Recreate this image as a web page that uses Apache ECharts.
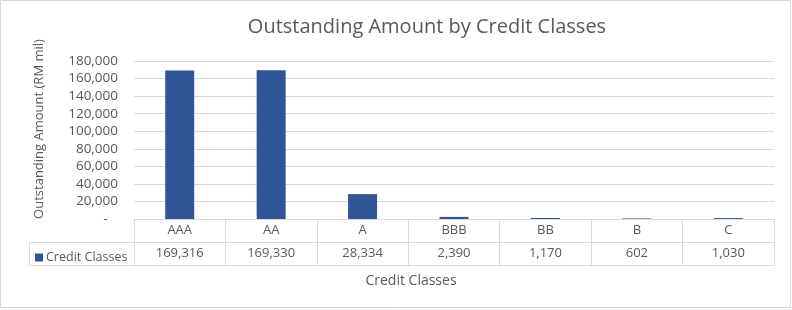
<!DOCTYPE html>
<html>
<head>
<meta charset="utf-8">
<script src="https://cdn.jsdelivr.net/npm/echarts@6/dist/echarts.min.js"></script>
<style>
html, body { margin: 0; padding: 0; background: #fff; }
#chart { width: 792px; height: 310px; }
</style>
</head>
<body>
<div id="chart"></div>
<script>
// data
const categories = ['AAA', 'AA', 'A', 'BBB', 'BB', 'B', 'C']
const values = [169316, 169330, 28334, 2390, 1170, 602, 1030]
const seriesName = 'Credit Classes'
const yMin = 0
const yMax = 180000
const yStep = 20000

const font = 'Open Sans'
const textColor = '#595959'
const lineColor = '#d9d9d9'
const fmt = (v) => Number(v).toLocaleString('en-US')

const chart = echarts.init(document.getElementById('chart'))
const option = {
  animation: false,
  textStyle: { fontFamily: font },
  title: [
    {
      text: 'Outstanding Amount by Credit Classes',
      left: 427,
      top: 17,
      padding: 0,
      textAlign: 'center',
      textStyle: { fontFamily: font, fontSize: 20, fontWeight: 'normal', color: textColor }
    },
    {
      text: 'Credit Classes',
      left: 411,
      top: 274,
      padding: 0,
      textAlign: 'center',
      textStyle: { fontFamily: font, fontSize: 14, fontWeight: 'normal', color: textColor }
    }
  ],
  // legend key sits in the data table's left cell
  legend: {
    data: [seriesName],
    left: 30,
    top: 246,
    icon: 'rect',
    itemWidth: 8,
    itemHeight: 8,
    itemGap: 0,
    selectedMode: false,
    textStyle: { fontFamily: font, fontSize: 12.5, color: textColor, padding: [0, 0, 0, -2] }
  },
  grid: {
    left: 134,
    right: 18,
    top: 61,
    bottom: 91,
    containLabel: false
  },
  xAxis: [
    // row 1: category names, ticks make the column dividers
    {
      type: 'category',
      data: categories,
      position: 'bottom',
      z: 3,
      axisLine: { lineStyle: { color: lineColor } },
      axisTick: { show: true, length: 46, interval: 0, lineStyle: { color: lineColor } },
      axisLabel: { color: textColor, fontSize: 13, margin: 5, interval: 0 },
      splitLine: { show: false }
    },
    // row 2: values
    {
      type: 'category',
      data: values.map(fmt),
      position: 'bottom',
      offset: 23,
      axisLine: { lineStyle: { color: lineColor } },
      axisTick: { show: false },
      axisLabel: { color: textColor, fontSize: 13, margin: 5, interval: 0 }
    },
    // bottom edge of the table
    {
      type: 'category',
      data: categories,
      position: 'bottom',
      offset: 46,
      axisLine: { lineStyle: { color: lineColor } },
      axisTick: { show: false },
      axisLabel: { show: false }
    }
  ],
  yAxis: {
    type: 'value',
    min: yMin,
    max: yMax,
    interval: yStep,
    name: 'Outstanding Amount (RM mil)',
    nameLocation: 'middle',
    nameRotate: 90,
    nameGap: 88,
    nameTextStyle: { fontFamily: font, fontSize: 13, color: textColor, padding: [0, 0, 0, 22] },
    axisLine: { show: false },
    axisTick: { show: false },
    axisLabel: {
      color: textColor,
      fontSize: 13.5,
      margin: 16,
      formatter: (v) => (v === 0 ? '-   ' : fmt(v))
    },
    splitLine: { lineStyle: { color: lineColor, width: 1 } }
  },
  series: [
    {
      name: seriesName,
      type: 'bar',
      data: values,
      barWidth: 29,
      itemStyle: { color: '#2F5597' }
    }
  ],
  graphic: [
    // left cell borders of the data table
    {
      type: 'polyline',
      shape: { points: [[134, 242.5], [29.5, 242.5], [29.5, 265.5], [134, 265.5]] },
      style: { fill: 'none', stroke: lineColor, lineWidth: 1 },
      silent: true
    },
    // chart frame
    {
      type: 'rect',
      shape: { x: 0.5, y: 0.5, width: 790, height: 307 },
      style: { fill: 'none', stroke: lineColor, lineWidth: 1 },
      silent: true
    }
  ]
}
chart.setOption(option)
</script>
</body>
</html>
